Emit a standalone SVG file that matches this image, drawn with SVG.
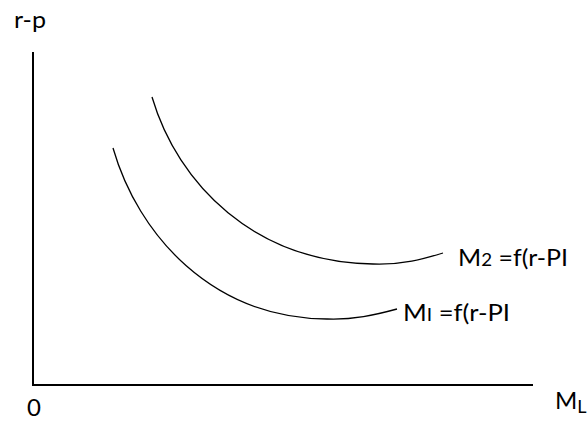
<svg xmlns="http://www.w3.org/2000/svg" width="587" height="421" viewBox="0 0 587 421">
<style>
.t{font-family:Lato,"Liberation Sans",sans-serif;font-size:24px;fill:#000}
.s{font-size:18px}
.ax{stroke:#000;stroke-width:2;fill:none}
.c{stroke:#000;stroke-width:1.3;fill:none}
</style>
<rect width="587" height="421" fill="#fff"/>
<g id="axes">
<line class="ax" x1="33" y1="52" x2="33" y2="386"/>
<line class="ax" x1="32" y1="385" x2="533" y2="385"/>
</g>
<g id="curves">
<path id="curve-m2" class="c" d="M152,97 C178,185 255,262 373,264 C403,265 423,259 443,253"/>
<path id="curve-m1" class="c" d="M113,148 C138,235 212,318 327,319 C353,320 375,315 397,309"/>
</g>
<g id="label-y"><text class="t" x="14" y="28" textLength="32" lengthAdjust="spacingAndGlyphs">r-p</text></g>
<g id="label-origin"><text class="t" x="27" y="416">0</text></g>
<g id="label-x"><text class="t" x="555" y="409">M<tspan class="s" dy="4">L</tspan></text></g>
<g id="label-m2"><text class="t" x="458" y="266" textLength="110" lengthAdjust="spacingAndGlyphs">M<tspan class="s">2</tspan> =f(r-PI</text></g>
<g id="label-m1"><text class="t" x="403" y="321" textLength="107" lengthAdjust="spacingAndGlyphs">M<tspan class="s">I</tspan> =f(r-PI</text></g>
</svg>
